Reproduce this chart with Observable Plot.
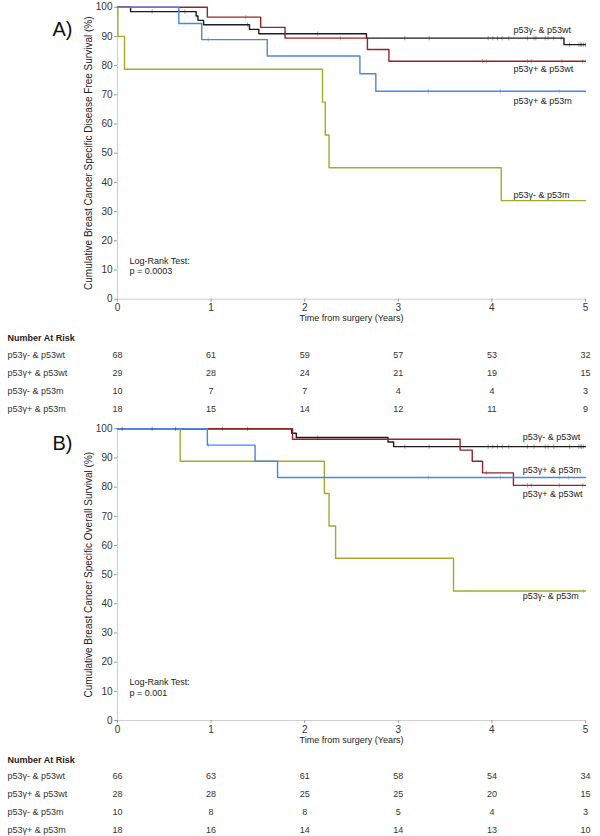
<!DOCTYPE html>
<html><head><meta charset="utf-8">
<script src="https://cdn.jsdelivr.net/npm/d3@7"></script>
<script src="https://cdn.jsdelivr.net/npm/@observablehq/plot@0.6"></script>
<style>
body{margin:0;background:#fff;font-family:"Liberation Sans",Arial,sans-serif;}
#root{width:600px;}
#root svg{display:block;}
</style></head><body><div id="root"></div>
<script>
// ---------- categories ----------
const groups = ["p53γ- & p53wt", "p53γ+ & p53wt", "p53γ- & p53m", "p53γ+ & p53m"];
const colors = ["#1c1c1c", "#922626", "#a3aa2c", "#4a86e8"];
const years = [0, 1, 2, 3, 4, 5];
const yTicks = [0, 10, 20, 30, 40, 50, 60, 70, 80, 90, 100];

// ---------- Panel A: disease free survival (step times, survival %) ----------
const dfsTimesNegWt = [0, 0.14, 0.84, 0.86, 0.92, 1.41, 1.51, 2.66, 4.77, 5];
const dfsSurvNegWt  = [100, 98.5, 97.0, 95.5, 94.0, 92.4, 90.9, 89.4, 87.2, 87.2];
const dfsTimesPosWt = [0, 0.96, 1.53, 1.79, 2.67, 2.90, 5];
const dfsSurvPosWt  = [100, 96.6, 93.1, 89.4, 85.5, 81.5, 81.5];
const dfsTimesNegM  = [0, 0.004, 0.075, 2.19, 2.22, 2.26, 4.10, 5];
const dfsSurvNegM   = [100, 90, 78.75, 67.5, 56.25, 45, 33.75, 33.75];
const dfsTimesPosM  = [0, 0.655, 0.90, 1.60, 2.59, 2.76, 5];
const dfsSurvPosM   = [100, 94.4, 88.9, 83.3, 77.2, 71.2, 71.2];
// censored times
const dfsCensNegWt = [0.37, 0.72, 1.39, 2.14, 3.07, 3.33, 3.96, 4.01, 4.06, 4.11, 4.18, 4.38, 4.45, 4.47, 4.57, 4.60, 4.66, 4.74, 4.83, 4.93, 4.95, 4.96, 4.98, 5.0];
const dfsCensPosWt = [1.37, 2.38, 3.90, 3.94, 4.38, 4.42, 4.75, 4.97];
const dfsCensNegM  = [];
const dfsCensPosM  = [0.97, 3.32, 4.09, 4.72];
// at risk
const dfsRiskNegWt = [68, 61, 59, 57, 53, 32];
const dfsRiskPosWt = [29, 28, 24, 21, 19, 15];
const dfsRiskNegM  = [10, 7, 7, 4, 4, 3];
const dfsRiskPosM  = [18, 15, 14, 12, 11, 9];
// curve labels (start x in years, y in %)
const dfsLabelX = [4.23, 4.23, 4.23, 4.23];
const dfsLabelY = [92.3, 78.9, 35.8, 68.0];
const dfsPValue = "p = 0.0003";

// ---------- Panel B: overall survival ----------
const osTimesNegWt = [0, 1.86, 1.91, 2.89, 2.95, 5];
const osSurvNegWt  = [100, 98.5, 97.0, 95.5, 93.9, 93.9];
const osTimesPosWt = [0, 1.87, 3.66, 3.79, 3.90, 4.23, 5];
const osSurvPosWt  = [100, 96.4, 92.7, 88.9, 84.9, 80.6, 80.6];
const osTimesNegM  = [0, 0.67, 2.21, 2.26, 2.33, 3.59, 5];
const osSurvNegM   = [100, 88.9, 77.8, 66.7, 55.6, 44.4, 44.4];
const osTimesPosM  = [0, 0.96, 1.47, 1.71, 5];
const osSurvPosM   = [100, 94.4, 88.9, 83.3, 83.3];
const osCensNegWt = [0.05, 0.37, 0.62, 1.12, 1.39, 2.14, 3.07, 3.33, 3.96, 4.01, 4.06, 4.11, 4.18, 4.38, 4.45, 4.57, 4.60, 4.66, 4.83, 4.93, 4.95, 4.96, 4.98];
const osCensPosWt = [3.94, 4.38, 4.42, 4.72, 4.97];
const osCensNegM  = [4.98];
const osCensPosM  = [0.97, 3.32, 4.09, 4.72, 4.82];
const osRiskNegWt = [66, 63, 61, 58, 54, 34];
const osRiskPosWt = [28, 28, 25, 25, 20, 15];
const osRiskNegM  = [10, 8, 8, 5, 4, 3];
const osRiskPosM  = [18, 16, 14, 14, 13, 10];
const osLabelX = [4.33, 4.33, 4.33, 4.33];
const osLabelY = [97.1, 77.7, 42.6, 85.7];
const osPValue = "p = 0.001";

// ---------- helpers ----------
const FONT = '"Liberation Sans", Arial, sans-serif';
function stepRows(times, surv, g) { return times.map((t, i) => ({group: g, t, s: surv[i]})); }
function survAt(times, surv, t) { let v = surv[0]; for (let i = 0; i < times.length; i++) if (times[i] <= t) v = surv[i]; return v; }
function censRows(cens, times, surv, g) { return cens.map(t => ({group: g, t, s: survAt(times, surv, t)})); }
const vtick = { draw(ctx, size) { const r = Math.sqrt(size / Math.PI); ctx.moveTo(0, -r); ctx.lineTo(0, r); } };

function chart({times, survs, cens, labelX, labelY, yLabel, letter, letterDy, pValue, height, marginTop, marginBottom}) {
  const order = [0, 1, 2, 3];
  const lines = order.flatMap(i => stepRows(times[i], survs[i], groups[i]));
  const ticks = order.flatMap(i => censRows(cens[i], times[i], survs[i], groups[i]));
  const labels = groups.map((g, i) => ({group: g, x: labelX[i], y: labelY[i]}));
  return Plot.plot({
    width: 600, height, marginLeft: 117, marginRight: 15, marginTop, marginBottom,
    style: {fontFamily: FONT, fontSize: "10px", background: "#fff", overflow: "visible"},
    x: {domain: [0, 5]},
    y: {domain: [0, 100]},
    color: {domain: groups, range: colors},
    marks: [
      Plot.ruleX([0], {stroke: "#cfcfcf"}),
      Plot.ruleY([0], {stroke: "#cfcfcf"}),
      Plot.axisY({ticks: yTicks, tickSize: 3, tickPadding: 2, stroke: "#999", fill: "#333", label: null, tickFormat: "d"}),
      Plot.axisX({ticks: years, tickSize: 3, tickPadding: 2, stroke: "#999", fill: "#333", label: null, tickFormat: "d"}),
      Plot.line(lines, {x: "t", y: "s", z: "group", stroke: "group", curve: "step-after", strokeWidth: 1.4}),
      Plot.dot(ticks, {x: "t", y: "s", stroke: "group", symbol: vtick, r: 2.2, strokeWidth: 0.8, strokeOpacity: 0.5, fill: "none"}),
      Plot.text(labels, {x: "x", y: "y", text: "group", textAnchor: "start", fill: "#222", fontSize: 9}),
      Plot.text([`Log-Rank Test:\n${pValue}`], {frameAnchor: "bottom-left", dx: 12, dy: -25, textAnchor: "start", lineHeight: 1.15, fill: "#222", fontSize: 9}),
      Plot.text([yLabel], {frameAnchor: "left", rotate: -90, dx: -29, textAnchor: "middle", fill: "#222", fontSize: 10}),
      Plot.text(["Time from surgery (Years)"], {frameAnchor: "bottom", dy: 22, fill: "#222", fontSize: 9}),
      Plot.text([letter], {frameAnchor: "top-left", dx: -65, dy: letterDy, textAnchor: "start", fill: "#111", fontSize: 20})
    ]
  });
}

function riskTable({risks, height, marginTop, marginBottom, headerDy}) {
  const cells = groups.flatMap((g, i) => risks[i].map((n, j) => ({group: g, t: years[j], n})));
  return Plot.plot({
    width: 600, height, marginLeft: 117, marginRight: 15, marginTop, marginBottom,
    style: {fontFamily: FONT, fontSize: "9px", background: "#fff", overflow: "visible"},
    x: {domain: [0, 5], axis: null},
    y: {domain: groups, type: "point", padding: 0, axis: null},
    marks: [
      Plot.text(cells, {x: "t", y: "group", text: "n", fill: "#333"}),
      Plot.text(groups, {y: d => d, text: d => d, frameAnchor: "left", dx: -110, textAnchor: "start", fill: "#333"}),
      Plot.text(["Number At Risk"], {frameAnchor: "top-left", dx: -110, dy: headerDy, textAnchor: "start", fontWeight: "bold", fill: "#222"})
    ]
  });
}

const root = document.getElementById("root");
root.append(chart({
  times: [dfsTimesNegWt, dfsTimesPosWt, dfsTimesNegM, dfsTimesPosM],
  survs: [dfsSurvNegWt, dfsSurvPosWt, dfsSurvNegM, dfsSurvPosM],
  cens: [dfsCensNegWt, dfsCensPosWt, dfsCensNegM, dfsCensPosM],
  labelX: dfsLabelX, labelY: dfsLabelY,
  yLabel: "Cumulative Breast Cancer Specific Disease Free Survival (%)",
  letter: "A)", letterDy: 15, pValue: dfsPValue,
  height: 329, marginTop: 6.7, marginBottom: 30.3
}));
root.append(riskTable({
  risks: [dfsRiskNegWt, dfsRiskPosWt, dfsRiskNegM, dfsRiskPosM],
  height: 91, marginTop: 25.3, marginBottom: 10.5, headerDy: -20
}));
root.append(chart({
  times: [osTimesNegWt, osTimesPosWt, osTimesNegM, osTimesPosM],
  survs: [osSurvNegWt, osSurvPosWt, osSurvNegM, osSurvPosM],
  cens: [osCensNegWt, osCensPosWt, osCensNegM, osCensPosM],
  labelX: osLabelX, labelY: osLabelY,
  yLabel: "Cumulative Breast Cancer Specific Overall Survival (%)",
  letter: "B)", letterDy: 7, pValue: osPValue,
  height: 328, marginTop: 8.3, marginBottom: 28
}));
root.append(riskTable({
  risks: [osRiskNegWt, osRiskPosWt, osRiskNegM, osRiskPosM],
  height: 88, marginTop: 27, marginBottom: 6, headerDy: -19
}));
</script></body></html>
